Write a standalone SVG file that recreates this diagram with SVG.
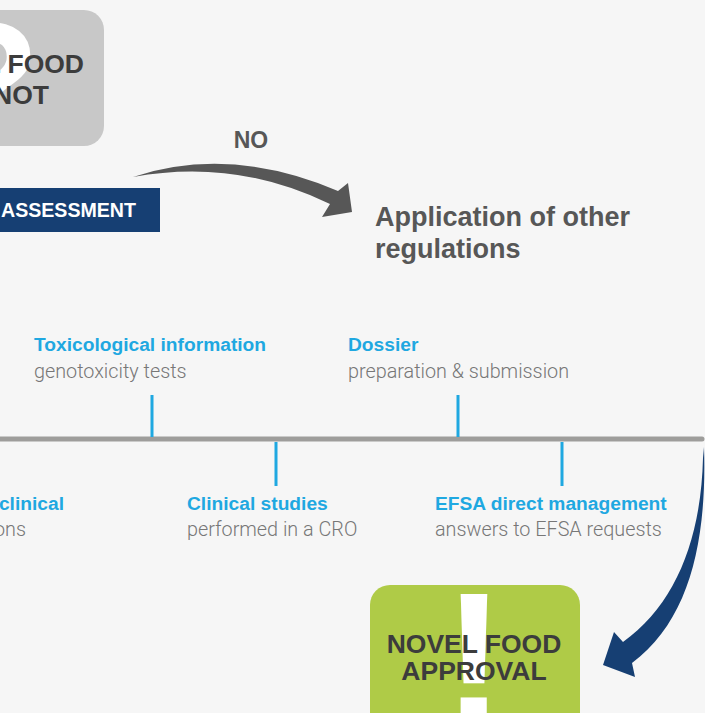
<svg xmlns="http://www.w3.org/2000/svg" width="705" height="713" viewBox="0 0 705 713">
<style>
.big{font-family:"Liberation Sans",Arial,sans-serif;font-weight:bold;fill:#3c3c3c}
.head{font-family:"Liberation Sans",Arial,sans-serif;font-weight:bold;font-size:19.2px;fill:#1fa8e1}
.light{font-family:Roboto,"Liberation Sans",sans-serif;font-weight:300;font-size:19.8px;fill:#777}
.gtxt{font-family:"Liberation Sans",Arial,sans-serif;font-weight:bold;fill:#575757}
.tick{stroke:#1fa8e1;stroke-width:3}
.glyph{font-family:"Liberation Sans",Arial,sans-serif;font-weight:bold;fill:#fff}
</style>
<rect width="705" height="713" fill="#f6f6f6"/>
<g id="node-novel-food-question">
<rect x="-60" y="10" width="164" height="136" rx="20" fill="#c8c8c8"/>
<text class="glyph" x="40" y="141" font-size="170" text-anchor="end">?</text>
<text class="big" x="84" y="73" font-size="26.5" text-anchor="end">L FOOD</text>
<text class="big" x="49" y="104" font-size="26.5" text-anchor="end">NOT</text>
</g>
<g id="node-assessment">
<rect x="-10" y="188" width="170" height="44" fill="#163f73"/>
<text x="136" y="217" font-family="Liberation Sans,Arial,sans-serif" font-weight="bold" font-size="19.6" fill="#fff" text-anchor="end">ASSESSMENT</text>
</g>
<g id="node-no-label">
<text class="gtxt" x="251" y="148" font-size="23" text-anchor="middle">NO</text>
</g>
<g id="node-other-regulations">
<text class="gtxt" x="375" y="226" font-size="27">Application of other</text>
<text class="gtxt" x="375" y="258" font-size="27">regulations</text>
</g>
<g id="connectors">
<path d="M133,177 Q230,145 338,191 L348,183 L352,212 L322,217 L330,204 Q235,158 133,177 Z" fill="#575757"/>
<path d="M704,447 C707,540 690,620 632,663 L635,677 L603,665 L614,632 L623,642 C675,605 701,540 703,458 Z" fill="#163f73"/>
<line x1="-10" y1="439" x2="702" y2="439" stroke="#9e9d9b" stroke-width="5" stroke-linecap="round"/>
<line class="tick" x1="152" y1="395" x2="152" y2="437"/>
<line class="tick" x1="458" y1="395" x2="458" y2="437"/>
<line class="tick" x1="276" y1="442" x2="276" y2="486"/>
<line class="tick" x1="562" y1="442" x2="562" y2="486"/>
</g>
<g id="node-toxicological">
<text class="head" x="34" y="351">Toxicological information</text>
<text class="light" x="34" y="378">genotoxicity tests</text>
</g>
<g id="node-dossier">
<text class="head" x="348" y="351">Dossier</text>
<text class="light" x="348" y="378">preparation &amp; submission</text>
</g>
<g id="node-preclinical">
<text class="head" x="64" y="510" text-anchor="end">clinical</text>
<text class="light" x="26" y="536" text-anchor="end">ons</text>
</g>
<g id="node-clinical">
<text class="head" x="187" y="510">Clinical studies</text>
<text class="light" x="187" y="536">performed in a CRO</text>
</g>
<g id="node-efsa">
<text class="head" x="435" y="510">EFSA direct management</text>
<text class="light" x="435" y="536">answers to EFSA requests</text>
</g>
<g id="node-approval">
<rect x="370" y="585" width="210" height="150" rx="20" fill="#afcb47"/>
<text class="glyph" x="474" y="722" font-size="185" text-anchor="middle">!</text>
<text class="big" x="474" y="653" font-size="26.5" text-anchor="middle">NOVEL FOOD</text>
<text class="big" x="474" y="680" font-size="26.5" text-anchor="middle">APPROVAL</text>
</g>
</svg>
